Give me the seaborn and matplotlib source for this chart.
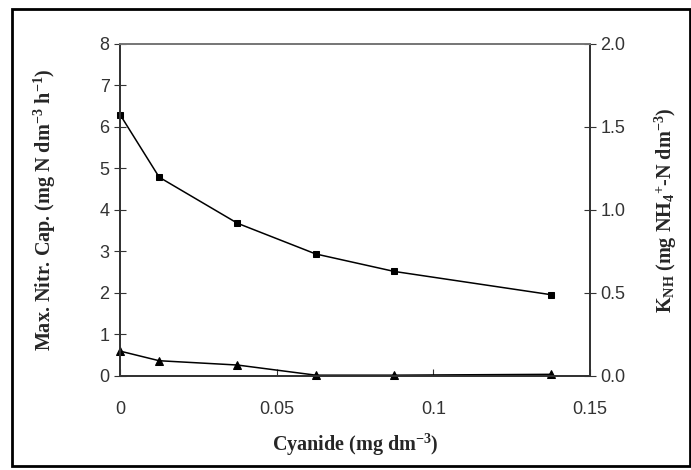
import numpy as np
import pandas as pd
import matplotlib.pyplot as plt
import seaborn as sns
from matplotlib.patches import Rectangle

# data
cyanide = [0.0, 0.0125, 0.0375, 0.0625, 0.0875, 0.1375]
max_nitr_cap = [6.3, 4.79, 3.68, 2.94, 2.52, 1.96]
k_nh = [0.15, 0.092, 0.066, 0.005, 0.005, 0.01]

x_ticks = [0, 0.05, 0.1, 0.15]
x_ticklabels = ['0', '0.05', '0.1', '0.15']
left_ticks = [0, 1, 2, 3, 4, 5, 6, 7, 8]
right_ticks = [0.0, 0.5, 1.0, 1.5, 2.0]

df = pd.DataFrame({'cyanide': cyanide, 'cap': max_nitr_cap, 'knh': k_nh})

sns.set_style('ticks')
plt.rcParams['font.family'] = ['Liberation Sans', 'DejaVu Sans']
plt.rcParams['mathtext.fontset'] = 'custom'
plt.rcParams['mathtext.rm'] = 'Liberation Serif:bold'
plt.rcParams['mathtext.it'] = 'Liberation Serif:bold'
plt.rcParams['mathtext.bf'] = 'Liberation Serif:bold'

fig = plt.figure(figsize=(6.91, 4.70), dpi=100)
ax = fig.add_axes([0.1737, 0.2, 0.68, 0.7064])
ax2 = ax.twinx()

sns.lineplot(data=df, x='cyanide', y='cap', ax=ax, color='black', marker='s',
             markersize=5, markeredgecolor='black', linewidth=1.1, clip_on=False)
sns.lineplot(data=df, x='cyanide', y='knh', ax=ax2, color='black', marker='^',
             markersize=6, markeredgecolor='black', linewidth=1.1, clip_on=False)

ax.set_xlim(0, 0.15)
ax.set_ylim(0, 8)
ax2.set_ylim(0, 2)
ax.set_xticks(x_ticks)
ax.set_xticklabels(x_ticklabels)
ax.set_yticks(left_ticks)
ax2.set_yticks(right_ticks)
ax2.set_yticklabels([f'{v:.1f}' for v in right_ticks])

for a in (ax, ax2):
    for s in a.spines.values():
        s.set_color('#333333')
        s.set_linewidth(1.3)
    a.spines['top'].set_color('#777777')
ax.tick_params(axis='x', direction='in', length=5, labelsize=13, pad=18, colors='#333333')
ax.tick_params(axis='y', direction='inout', length=8, labelsize=13, colors='#333333')
ax2.tick_params(axis='y', direction='inout', length=8, labelsize=13, colors='#333333')

serif = {'family': 'Liberation Serif', 'weight': 'bold', 'size': 14.5}
ax.set_xlabel(r'Cyanide (mg dm$^{-3}$)', fontdict=serif, labelpad=10)
ax.set_ylabel(r'Max. Nitr. Cap. (mg N dm$^{-3}$ h$^{-1}$)', fontdict=serif, labelpad=30)
ax2.set_ylabel(r'K$_{\mathrm{NH}}$ (mg NH$_4$$^{+}$-N dm$^{-3}$)', fontdict=serif, labelpad=20)

# outer frame around the whole figure
fig.patches.append(Rectangle((12 / 691, 4 / 470), 678 / 691, 457 / 470,
                             transform=fig.transFigure, fill=False,
                             edgecolor='black', linewidth=2))

plt.savefig('out.png', dpi=100)
